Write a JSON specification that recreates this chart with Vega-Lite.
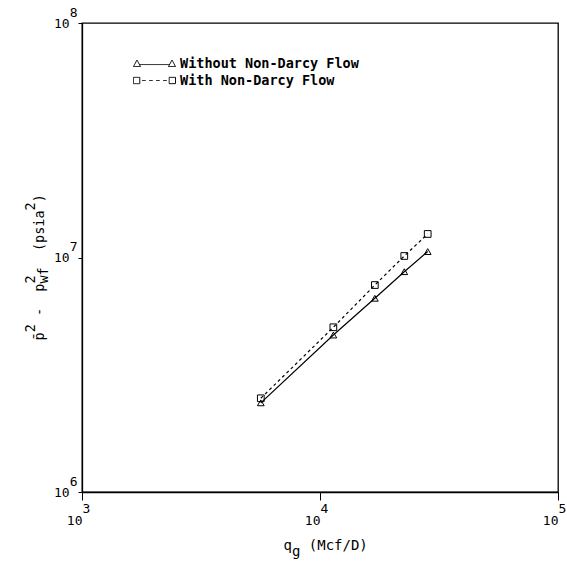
{
  "$schema": "https://vega.github.io/schema/vega-lite/v6.json",
  "width": 476,
  "height": 469,
  "autosize": {"type": "none"},
  "padding": {"left": 82, "top": 23, "right": 9, "bottom": 77},
  "background": "white",
  "config": {
    "view": {"stroke": "black", "strokeWidth": 1.3},
    "font": "DejaVu Sans Mono",
    "axis": {
      "grid": false,
      "domainColor": "black",
      "domainWidth": 1.3,
      "tickColor": "black",
      "tickWidth": 1,
      "labelColor": "black",
      "titleColor": "black",
      "labelFont": "DejaVu Sans Mono",
      "titleFont": "DejaVu Sans Mono",
      "titleFontWeight": "normal",
      "labelFlush": false,
      "labelOverlap": false
    },
    "legend": {
      "title": null,
      "orient": "none",
      "legendX": 65,
      "legendY": 33,
      "symbolSize": 196,
      "symbolStrokeWidth": 1,
      "symbolStrokeColor": "black",
      "symbolFillColor": "transparent",
      "labelFont": "DejaVu Sans Mono",
      "labelFontSize": 13.5,
      "labelFontWeight": "bold",
      "labelColor": "black",
      "labelOffset": 18,
      "labelLimit": 400,
      "rowPadding": 3
    }
  },
  "data": {
    "values": [
      {"series": "Without Non-Darcy Flow", "q": 5640, "dp": 2400000},
      {"series": "Without Non-Darcy Flow", "q": 11380, "dp": 4670000},
      {"series": "Without Non-Darcy Flow", "q": 17000, "dp": 6700000},
      {"series": "Without Non-Darcy Flow", "q": 22600, "dp": 8700000},
      {"series": "Without Non-Darcy Flow", "q": 28350, "dp": 10600000},
      {"series": "With Non-Darcy Flow", "q": 5640, "dp": 2510000},
      {"series": "With Non-Darcy Flow", "q": 11380, "dp": 5040000},
      {"series": "With Non-Darcy Flow", "q": 17000, "dp": 7630000},
      {"series": "With Non-Darcy Flow", "q": 22600, "dp": 10150000},
      {"series": "With Non-Darcy Flow", "q": 28350, "dp": 12600000}
    ]
  },
  "encoding": {
    "x": {
      "field": "q",
      "type": "quantitative",
      "scale": {"type": "log", "domain": [1000, 100000], "nice": false},
      "axis": {
        "values": [1000, 10000, 100000],
        "tickSize": 8,
        "labelExpr": "['\u200b\u00a0\u00a0' + round(log(datum.value) / LN10) + '\u00a0\u200b', '\u200b10\u00a0\u00a0\u200b']",
        "labelAlign": "center",
        "labelBaseline": "top",
        "labelFontSize": 13,
        "labelLineHeight": 12,
        "labelPadding": 2,
        "title": ["q\u00a0\u00a0(Mcf/D)", "\u200b\u00a0g"],
        "titleFontSize": 14,
        "titleAlign": "left",
        "titleBaseline": "alphabetic",
        "titleLineHeight": 6,
        "titleX": 201,
        "titleY": 57
      }
    },
    "y": {
      "field": "dp",
      "type": "quantitative",
      "scale": {"type": "log", "domain": [1000000, 100000000], "nice": false},
      "axis": {
        "values": [1000000, 10000000, 100000000],
        "tickSize": 4,
        "labelExpr": "['' + round(log(datum.value) / LN10), '10\u00a0\u200b']",
        "labelAlign": "right",
        "labelBaseline": "middle",
        "labelFontSize": 13,
        "labelLineHeight": 11,
        "labelOffset": -11,
        "labelPadding": 1,
        "title": [
          "\u200b\u00a02\u00a0\u00a0\u00a0\u00a0\u00a02\u00a0\u00a0\u00a0\u00a0\u00a0\u00a0\u00a0\u00a02",
          "\u200b",
          "p\u0304\u00a0\u00a0-\u00a0\u00a0p\u00a0\u00a0\u00a0\u00a0(psia\u00a0)",
          "\u200b\u00a0\u00a0\u00a0\u00a0\u00a0\u00a0\u00a0wf"
        ],
        "titleFontSize": 13.5,
        "titleAngle": 270,
        "titleAlign": "left",
        "titleBaseline": "alphabetic",
        "titleLineHeight": 4.5,
        "titleX": -48,
        "titleY": 317
      }
    },
    "color": {
      "field": "series",
      "type": "nominal",
      "scale": {"domain": ["Without Non-Darcy Flow", "With Non-Darcy Flow"], "range": ["black", "black"]},
      "legend": {
        "encode": {
          "symbols": {
            "update": {
              "strokeDash": {"value": [1, 0]},
              "shape": {
                "signal": "datum.value === 'Without Non-Darcy Flow' ? 'M-3,0.43L-2.5,-0.5L-2,0.43ZM2,0.43L2.5,-0.5L3,0.43ZM-2.15,0.15H2.15' : 'M-3,-0.45H-2.1V0.45H-3ZM2.1,-0.45H3V0.45H2.1ZM-1.75,0H-1.25M-0.75,0H-0.25M0.25,0H0.75M1.25,0H1.75'"
              }
            }
          }
        }
      }
    }
  },
  "layer": [
    {
      "transform": [{"filter": "datum.series === 'Without Non-Darcy Flow'"}],
      "mark": {"type": "line", "strokeWidth": 1.2}
    },
    {
      "transform": [{"filter": "datum.series === 'With Non-Darcy Flow'"}],
      "mark": {"type": "line", "strokeWidth": 1.2, "strokeDash": [3, 3]}
    },
    {
      "transform": [{"filter": "datum.series === 'Without Non-Darcy Flow'"}],
      "mark": {"type": "point", "shape": "triangle-up", "filled": false, "strokeWidth": 1, "size": 45, "opacity": 1}
    },
    {
      "transform": [{"filter": "datum.series === 'With Non-Darcy Flow'"}],
      "mark": {"type": "point", "shape": "square", "filled": false, "strokeWidth": 1, "size": 45, "opacity": 1}
    }
  ]
}
